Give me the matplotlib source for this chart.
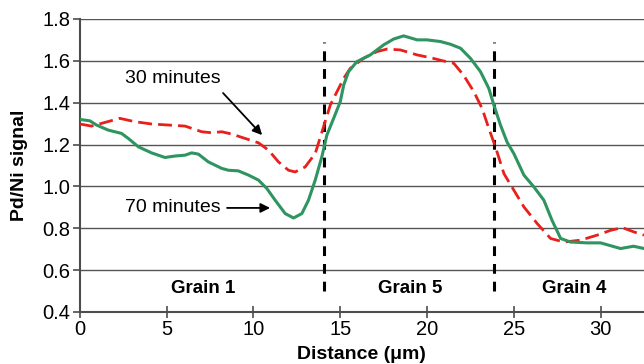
import numpy as np
import matplotlib
matplotlib.use('Agg')
import matplotlib.pyplot as plt

plt.rcParams['font.family'] = ['Liberation Sans', 'DejaVu Sans']

# 30 minutes (red dashed)
x30 = [0, 0.67, 1.25, 2.3, 3.17, 4.13, 5.1, 6.06, 7.02, 7.6, 8.17, 8.75, 9.52, 10.29,
       10.87, 11.44, 12.02, 12.4, 12.98, 13.56, 14.04, 14.43, 14.81, 15.2, 15.58, 16.35,
       17.12, 17.7, 18.46, 19.43, 20.19, 20.96, 21.54, 22.1, 22.7, 23.17, 23.56, 23.94,
       24.43, 25.0, 25.58, 26.35, 27.12, 27.89, 28.85, 29.8, 30.58, 31.25, 31.93, 32.5]
y30 = [1.298, 1.288, 1.301, 1.325, 1.309, 1.298, 1.293, 1.288, 1.261, 1.256, 1.261,
       1.25, 1.229, 1.208, 1.173, 1.117, 1.077, 1.069, 1.093, 1.157, 1.285, 1.389,
       1.452, 1.516, 1.564, 1.612, 1.644, 1.656, 1.652, 1.628, 1.615, 1.599, 1.588,
       1.532, 1.452, 1.373, 1.277, 1.189, 1.061, 0.982, 0.902, 0.822, 0.751, 0.734,
       0.743, 0.767, 0.79, 0.803, 0.782, 0.767]

# 70 minutes (green solid)
x70 = [0, 0.58, 0.96, 1.63, 2.4, 2.79, 3.37, 4.13, 4.9, 5.48, 6.06, 6.44, 6.83, 7.4,
       8.17, 8.56, 9.13, 9.71, 10.29, 10.77, 11.25, 11.83, 12.31, 12.79, 13.17, 13.56,
       13.94, 14.23, 14.62, 15.0, 15.2, 15.48, 15.96, 16.73, 17.5, 18.08, 18.65, 19.43,
       20.0, 20.77, 21.35, 21.93, 22.5, 23.08, 23.56, 23.85, 24.23, 24.62, 25.0, 25.58,
       26.15, 26.73, 27.2, 27.7, 28.27, 29.23, 30.0, 31.15, 31.9, 32.5]
y70 = [1.32, 1.313, 1.293, 1.269, 1.253, 1.229, 1.189, 1.16, 1.138, 1.145, 1.149,
       1.16, 1.154, 1.117, 1.086, 1.077, 1.074, 1.054, 1.03, 0.99, 0.934, 0.87, 0.849,
       0.87, 0.934, 1.03, 1.141, 1.245, 1.325, 1.404, 1.484, 1.548, 1.596, 1.628, 1.676,
       1.704, 1.719, 1.70, 1.70, 1.692, 1.679, 1.66, 1.612, 1.548, 1.468, 1.389, 1.293,
       1.21, 1.157, 1.054, 0.998, 0.934, 0.838, 0.751, 0.734, 0.73, 0.73, 0.703, 0.714,
       0.703]

boundaries = [14.04, 23.85]
grain_labels = ['Grain 1', 'Grain 5', 'Grain 4']
grain_x = [7.1, 19.04, 28.45]

fig = plt.figure(figsize=(6.44, 3.64), dpi=100)
ax = fig.add_axes([0.124, 0.143, 0.876, 0.805])

for yv in np.arange(0.6, 1.81, 0.2):
    ax.axhline(yv, color='#555555', linewidth=1.0, zorder=1)

for b in boundaries:
    ax.plot([b, b], [0.5, 1.69], color='black', linewidth=2.2,
            linestyle=(0, (3.2, 2.6)), zorder=2)

ax.plot(x30, y30, color='#e8201c', linewidth=2.0, linestyle=(0, (5, 2.2)), zorder=3)
ax.plot(x70, y70, color='#2e9460', linewidth=2.2, zorder=4)

for lbl, gx in zip(grain_labels, grain_x):
    ax.text(gx, 0.513, lbl, ha='center', va='center', fontsize=13.5, fontweight='bold')

# annotations
ax.text(5.37, 1.513, '30 minutes', ha='center', va='center', fontsize=14)
ax.annotate('', xy=(10.5, 1.245), xytext=(8.25, 1.446),
            arrowprops=dict(arrowstyle='-|>', color='black', lw=1.3,
                            shrinkA=0, shrinkB=0, mutation_scale=14))
ax.text(5.37, 0.897, '70 minutes', ha='center', va='center', fontsize=14)
ax.annotate('', xy=(10.96, 0.897), xytext=(8.48, 0.897),
            arrowprops=dict(arrowstyle='-|>', color='black', lw=1.3,
                            shrinkA=0, shrinkB=0, mutation_scale=14))

ax.set_xlim(0, 32.5)
ax.set_ylim(0.4, 1.8)
ax.set_xticks([0, 5, 10, 15, 20, 25, 30])
ax.set_yticks([0.4, 0.6, 0.8, 1.0, 1.2, 1.4, 1.6, 1.8])
ax.set_yticklabels(['0.4', '0.6', '0.8', '1.0', '1.2', '1.4', '1.6', '1.8'])
ax.tick_params(axis='both', labelsize=14.5, color='#4d4d4d', length=5, width=1.2, pad=2)
ax.tick_params(axis='x', direction='inout', length=8)
for s in ['top', 'right']:
    ax.spines[s].set_visible(False)
for s in ['left', 'bottom']:
    ax.spines[s].set_color('#4d4d4d')
    ax.spines[s].set_linewidth(1.5)

ax.set_xlabel('Distance (μm)', fontsize=14, fontweight='bold', labelpad=5)
ax.set_ylabel('Pd/Ni signal', fontsize=14, fontweight='bold', labelpad=10)

fig.savefig('out.png', dpi=100)
